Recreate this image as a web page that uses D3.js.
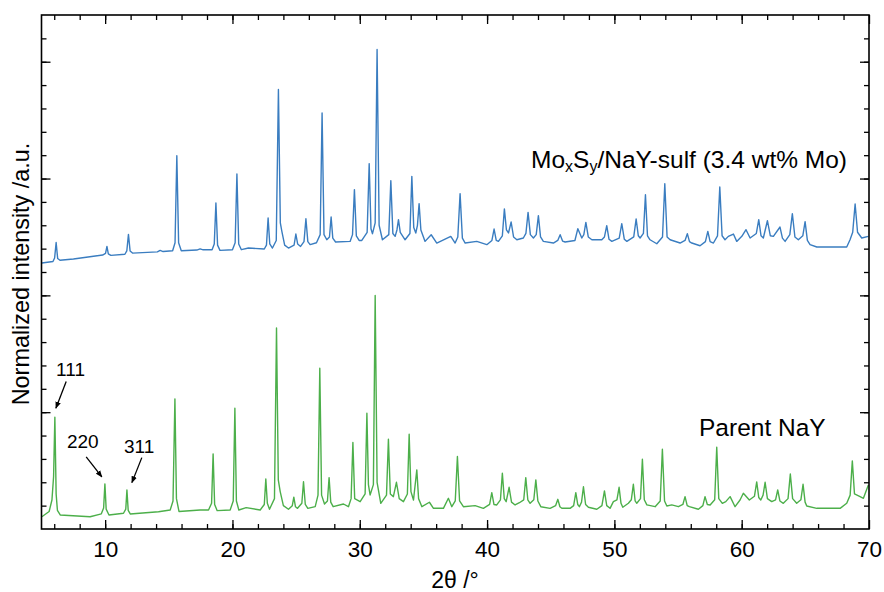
<!DOCTYPE html>
<html>
<head>
<meta charset="utf-8">
<script src="https://cdn.jsdelivr.net/npm/d3@7"></script>
<style>
body { margin: 0; padding: 0; background: #fff; }
text { font-family: Arial, "Liberation Sans", sans-serif; fill: #000; }
</style>
</head>
<body>
<script>
// XRD patterns, [2theta, normalized intensity]
var moxsyNaY = [
  [5.03,2.277],[5.90,2.290],[6.03,2.320],[6.15,2.453],[6.27,2.315],[6.45,2.300],[7.51,2.311],[9.80,2.345],
  [10.03,2.360],[10.14,2.419],[10.25,2.355],[10.45,2.342],[11.55,2.352],[11.70,2.380],[11.83,2.522],[11.96,2.380],
  [12.15,2.362],[14.10,2.372],[14.32,2.385],[14.55,2.375],[15.30,2.382],[15.49,2.450],[15.63,3.196],[15.77,2.450],
  [15.98,2.382],[17.20,2.388],[17.46,2.398],[17.70,2.390],[18.40,2.390],[18.57,2.440],[18.70,2.791],[18.83,2.430],
  [19.02,2.385],[20.00,2.390],[20.21,2.450],[20.35,3.039],[20.49,2.440],[20.70,2.391],[21.26,2.405],[22.50,2.397],
  [22.67,2.430],[22.80,2.662],[22.93,2.440],[23.14,2.405],[23.44,2.470],[23.61,3.762],[23.76,2.620],[23.88,2.548],
  [24.10,2.430],[24.40,2.405],[24.84,2.430],[24.98,2.525],[25.12,2.440],[25.35,2.419],[25.62,2.460],[25.77,2.656],
  [25.92,2.460],[26.10,2.434],[26.60,2.450],[26.89,2.520],[27.04,3.562],[27.19,2.520],[27.41,2.476],[27.62,2.500],
  [27.75,2.671],[27.88,2.490],[28.10,2.457],[29.24,2.462],[29.43,2.520],[29.58,2.905],[29.73,2.510],[29.95,2.470],
  [30.16,2.470],[30.58,2.540],[30.74,3.128],[30.88,2.570],[31.00,2.528],[31.21,2.620],[31.36,4.105],[31.52,2.600],
  [31.78,2.476],[32.28,2.520],[32.44,2.982],[32.60,2.530],[32.78,2.505],[32.92,2.560],[33.04,2.648],[33.18,2.540],
  [33.56,2.476],[33.94,2.530],[34.09,3.019],[34.24,2.580],[34.40,2.534],[34.53,2.600],[34.66,2.785],[34.80,2.560],
  [35.13,2.462],[35.61,2.519],[36.05,2.448],[37.15,2.505],[37.49,2.448],[37.70,2.500],[37.88,2.871],[38.06,2.490],
  [38.28,2.448],[39.19,2.462],[39.98,2.434],[40.38,2.470],[40.55,2.568],[40.72,2.470],[40.89,2.462],[41.20,2.510],
  [41.36,2.740],[41.52,2.560],[41.68,2.534],[41.89,2.628],[42.08,2.500],[42.34,2.476],[42.85,2.491],[43.05,2.530],
  [43.22,2.710],[43.40,2.520],[43.64,2.491],[43.86,2.520],[44.03,2.682],[44.20,2.500],[44.42,2.462],[45.21,2.448],
  [45.55,2.470],[45.74,2.519],[45.93,2.465],[46.13,2.457],[46.90,2.470],[47.13,2.571],[47.44,2.491],[47.60,2.520],
  [47.76,2.625],[47.95,2.500],[48.23,2.476],[49.01,2.476],[49.22,2.500],[49.40,2.596],[49.58,2.480],[49.80,2.462],
  [50.38,2.490],[50.58,2.614],[50.78,2.480],[50.98,2.462],[51.52,2.500],[51.71,2.654],[51.88,2.510],[52.02,2.491],
  [52.28,2.530],[52.44,2.862],[52.60,2.510],[52.80,2.476],[53.33,2.442],[53.78,2.500],[53.96,2.956],[54.14,2.500],
  [54.38,2.476],[55.16,2.448],[55.55,2.470],[55.73,2.528],[55.90,2.460],[56.08,2.448],[56.73,2.425],[57.15,2.460],
  [57.34,2.548],[57.52,2.460],[57.78,2.448],[58.10,2.510],[58.28,2.928],[58.46,2.510],[58.69,2.476],[58.95,2.505],
  [59.35,2.525],[59.61,2.462],[60.01,2.505],[60.34,2.562],[60.66,2.491],[61.15,2.530],[61.34,2.648],[61.52,2.510],
  [61.70,2.491],[62.02,2.639],[62.25,2.510],[62.49,2.505],[63.01,2.585],[63.20,2.490],[63.41,2.462],[63.78,2.520],
  [63.98,2.699],[64.18,2.500],[64.45,2.476],[64.80,2.510],[64.98,2.631],[65.16,2.470],[65.37,2.434],[65.90,2.414],
  [68.25,2.414],[68.51,2.476],[68.72,2.540],[68.91,2.782],[69.10,2.540],[69.43,2.491],[69.95,2.505]
];

var parentNaY = [
  [5.03,0.105],[5.60,0.150],[5.82,0.248],[5.95,0.450],[6.05,0.957],[6.15,0.300],[6.25,0.160],[6.47,0.120],
  [8.82,0.105],[9.70,0.130],[9.88,0.180],[9.98,0.386],[10.08,0.170],[10.30,0.120],[11.44,0.135],[11.62,0.170],
  [11.71,0.334],[11.81,0.160],[11.97,0.129],[12.70,0.135],[14.19,0.148],[15.11,0.163],[15.33,0.240],[15.48,1.114],
  [15.60,0.260],[15.80,0.150],[17.46,0.163],[18.12,0.163],[18.36,0.220],[18.48,0.643],[18.60,0.210],[18.80,0.157],
  [19.82,0.163],[20.06,0.240],[20.19,1.034],[20.31,0.240],[20.50,0.163],[21.08,0.183],[22.18,0.163],[22.50,0.210],
  [22.62,0.428],[22.74,0.220],[22.91,0.169],[23.30,0.260],[23.46,1.720],[23.60,0.420],[23.75,0.320],[24.00,0.200],
  [24.40,0.169],[24.70,0.200],[24.82,0.272],[24.95,0.190],[25.11,0.177],[25.45,0.220],[25.58,0.405],[25.72,0.210],
  [25.92,0.177],[26.50,0.191],[26.72,0.290],[26.86,1.377],[27.00,0.290],[27.23,0.214],[27.46,0.240],[27.59,0.440],
  [27.72,0.230],[27.91,0.191],[28.72,0.214],[29.11,0.191],[29.32,0.260],[29.46,0.740],[29.60,0.260],[30.03,0.234],
  [30.42,0.300],[30.56,0.991],[30.68,0.380],[30.81,0.291],[31.07,0.380],[31.21,1.999],[31.36,0.400],[31.65,0.220],
  [32.10,0.290],[32.25,0.769],[32.40,0.300],[32.64,0.277],[32.88,0.400],[33.10,0.260],[33.43,0.234],[33.74,0.300],
  [33.88,0.811],[34.02,0.320],[34.22,0.248],[34.48,0.506],[34.62,0.260],[34.88,0.191],[35.47,0.229],[35.79,0.177],
  [36.57,0.177],[36.96,0.263],[37.23,0.191],[37.50,0.240],[37.67,0.620],[37.84,0.240],[38.14,0.191],[39.06,0.200],
  [39.71,0.177],[40.20,0.210],[40.37,0.311],[40.54,0.210],[40.76,0.206],[41.05,0.250],[41.20,0.477],[41.35,0.260],
  [41.50,0.234],[41.73,0.357],[41.92,0.230],[42.20,0.206],[42.54,0.225],[42.88,0.250],[43.04,0.440],[43.20,0.250],
  [43.38,0.220],[43.67,0.250],[43.83,0.420],[43.99,0.240],[44.22,0.191],[44.95,0.177],[45.38,0.200],[45.56,0.254],
  [45.72,0.190],[45.87,0.177],[46.52,0.177],[46.80,0.200],[46.97,0.311],[47.12,0.210],[47.25,0.191],[47.42,0.230],
  [47.57,0.362],[47.74,0.210],[47.96,0.186],[48.62,0.169],[49.02,0.200],[49.22,0.326],[49.40,0.200],[49.66,0.177],
  [49.92,0.234],[50.20,0.250],[50.37,0.357],[50.52,0.220],[50.66,0.186],[51.10,0.220],[51.33,0.250],[51.49,0.383],
  [51.63,0.240],[51.76,0.220],[52.05,0.260],[52.20,0.597],[52.35,0.250],[52.55,0.206],[53.20,0.191],[53.60,0.240],
  [53.77,0.683],[53.94,0.240],[54.12,0.197],[54.51,0.206],[55.03,0.191],[55.38,0.210],[55.55,0.277],[55.72,0.200],
  [55.89,0.191],[56.60,0.169],[56.95,0.200],[57.12,0.277],[57.30,0.210],[57.52,0.206],[57.88,0.250],[58.04,0.700],
  [58.20,0.260],[58.48,0.220],[58.75,0.234],[59.09,0.277],[59.48,0.191],[59.87,0.248],[60.13,0.306],[60.60,0.248],
  [61.00,0.280],[61.18,0.403],[61.34,0.270],[61.50,0.248],[61.68,0.290],[61.84,0.400],[62.02,0.260],[62.36,0.234],
  [62.66,0.250],[62.83,0.334],[63.00,0.240],[63.27,0.220],[63.64,0.260],[63.82,0.471],[64.00,0.260],[64.32,0.220],
  [64.65,0.250],[64.82,0.383],[64.98,0.230],[65.11,0.197],[65.90,0.177],[67.73,0.177],[68.25,0.220],[68.52,0.290],
  [68.69,0.583],[68.86,0.300],[69.30,0.277],[69.56,0.263],[69.95,0.377]
];

var xMajorTicks = [10, 20, 30, 40, 50, 60, 70];
var xMinorTicks = d3.range(6, 70, 2);
var yMajorTicks = [1, 2, 3, 4];
var yMinorTicks = d3.range(0.2, 4.4, 0.2);

// reflection labels: text, arrow tail [2theta, I], arrow tip [2theta, I]
var hklLabels = ["111", "220", "311"];
var hklText   = [[7.28, 1.311], [8.24, 0.694], [12.67, 0.651]];
var hklTail   = [[6.94, 1.262], [8.51, 0.617], [12.88, 0.611]];
var hklTip    = [[6.13, 1.034], [9.74, 0.446], [12.10, 0.397]];

var width = 884, height = 592;
var plotL = 41.5, plotR = 869, plotT = 15, plotB = 529;   // frame of the plot (window.top is taken)

var svg = d3.select("body").append("svg")
  .attr("width", width)
  .attr("height", height);

var x = d3.scaleLinear().domain([5, 70]).range([plotL, plotR]);
var y = d3.scaleLinear().domain([0, 4.4]).range([plotB, plotT]);

// ticks point inward on all four sides
function noDomain(g) { g.select(".domain").remove(); g.selectAll("line").attr("stroke-width", 1.3); }

svg.append("g").attr("transform", "translate(0," + plotB + ")")
  .call(d3.axisBottom(x).tickValues(xMinorTicks).tickSize(-5).tickFormat("")).call(noDomain);
svg.append("g").attr("transform", "translate(0," + plotB + ")")
  .call(d3.axisBottom(x).tickValues(xMajorTicks).tickSize(-9).tickPadding(12).tickFormat(d3.format("d")))
  .call(noDomain)
  .selectAll("text").style("font-size", "22.5px").style("font-family", "Arial, 'Liberation Sans', sans-serif");
svg.append("g").attr("transform", "translate(0," + plotT + ")")
  .call(d3.axisTop(x).tickValues(xMinorTicks).tickSize(-5).tickFormat("")).call(noDomain);
svg.append("g").attr("transform", "translate(0," + plotT + ")")
  .call(d3.axisTop(x).tickValues(xMajorTicks).tickSize(-9).tickFormat("")).call(noDomain);

svg.append("g").attr("transform", "translate(" + plotL + ",0)")
  .call(d3.axisLeft(y).tickValues(yMinorTicks).tickSize(-5).tickFormat("")).call(noDomain);
svg.append("g").attr("transform", "translate(" + plotL + ",0)")
  .call(d3.axisLeft(y).tickValues(yMajorTicks).tickSize(-9).tickFormat("")).call(noDomain);
svg.append("g").attr("transform", "translate(" + plotR + ",0)")
  .call(d3.axisRight(y).tickValues(yMinorTicks).tickSize(-5).tickFormat("")).call(noDomain);
svg.append("g").attr("transform", "translate(" + plotR + ",0)")
  .call(d3.axisRight(y).tickValues(yMajorTicks).tickSize(-9).tickFormat("")).call(noDomain);

// traces
var line = d3.line().x(function (d) { return x(d[0]); }).y(function (d) { return y(d[1]); });

svg.append("path").datum(parentNaY)
  .attr("d", line).attr("fill", "none")
  .attr("stroke", "#4caf4a").attr("stroke-width", 1.4).attr("stroke-linejoin", "round");

svg.append("path").datum(moxsyNaY)
  .attr("d", line).attr("fill", "none")
  .attr("stroke", "#3a7dc0").attr("stroke-width", 1.4).attr("stroke-linejoin", "round");

// frame
svg.append("rect")
  .attr("x", plotL).attr("y", plotT)
  .attr("width", plotR - plotL).attr("height", plotB - plotT)
  .attr("fill", "none").attr("stroke", "#000").attr("stroke-width", 1.6);

// axis titles
svg.append("text")
  .attr("x", 455).attr("y", 588)
  .attr("text-anchor", "middle").style("font-size", "23px")
  .text("2θ /°");

svg.append("text")
  .attr("transform", "translate(29," + 274 + ") rotate(-90)")
  .attr("text-anchor", "middle").style("font-size", "23.4px")
  .text("Normalized intensity /a.u.");

// series labels
var moLabel = svg.append("text").attr("x", 531).attr("y", 168).style("font-size", "24.5px");
moLabel.append("tspan").text("Mo");
moLabel.append("tspan").attr("dy", 4).style("font-size", "16px").text("x");
moLabel.append("tspan").attr("dy", -4).text("S");
moLabel.append("tspan").attr("dy", 4).style("font-size", "16px").text("y");
moLabel.append("tspan").attr("dy", -4).text("/NaY-sulf (3.4 wt% Mo)");

svg.append("text").attr("x", 699).attr("y", 436).style("font-size", "24.5px").text("Parent NaY");

// hkl arrows
svg.append("defs").append("marker")
  .attr("id", "head").attr("viewBox", "0 0 10 10")
  .attr("refX", 9).attr("refY", 5)
  .attr("markerWidth", 7).attr("markerHeight", 7)
  .attr("markerUnits", "userSpaceOnUse")
  .attr("orient", "auto")
  .append("path").attr("d", "M0,1 L10,5 L0,9 Z").attr("fill", "#000");

hklLabels.forEach(function (lab, i) {
  svg.append("text")
    .attr("x", x(hklText[i][0])).attr("y", y(hklText[i][1]))
    .attr("text-anchor", "middle").style("font-size", "19px")
    .text(lab);
  svg.append("line")
    .attr("x1", x(hklTail[i][0])).attr("y1", y(hklTail[i][1]))
    .attr("x2", x(hklTip[i][0])).attr("y2", y(hklTip[i][1]))
    .attr("stroke", "#000").attr("stroke-width", 1.3)
    .attr("marker-end", "url(#head)");
});
</script>
</body>
</html>
